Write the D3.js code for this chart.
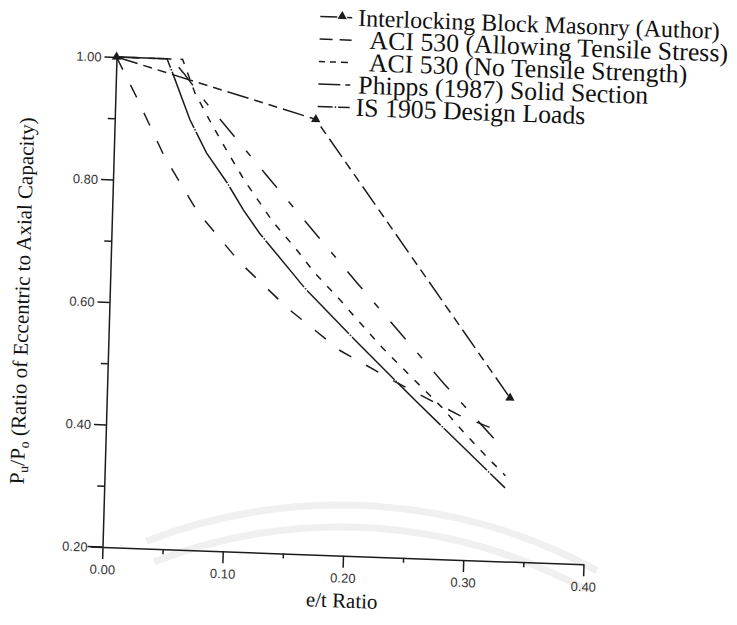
<!DOCTYPE html>
<html>
<head>
<meta charset="utf-8">
<script src="https://cdn.jsdelivr.net/npm/d3@7/dist/d3.min.js"></script>
<style>
    body { margin: 0; background: #fff; }
    svg { display: block; }
</style>
</head>
<body>
<svg id="chart" width="737" height="625"></svg>
<script>
// values (e/t ratio vs Pu/Po)
var xTicks = [0, 0.1, 0.2, 0.3, 0.4];
var xMinor = [0.05, 0.15, 0.25, 0.35];
var yTicks = [0.2, 0.4, 0.6, 0.8, 1.0];
var yMinor = [0.3, 0.5, 0.7, 0.9];

var authorE = [0, 0.167, 0.335];
var authorP = [1.0, 0.91, 0.467];

var aciTensE = [0, 0.017, 0.042, 0.071, 0.108, 0.149, 0.193, 0.241, 0.293, 0.327];
var aciTensP = [1.0, 0.938, 0.841, 0.752, 0.671, 0.599, 0.534, 0.485, 0.436, 0.412];

var aciNoTensE = [0, 0.055, 0.066, 0.081, 0.095, 0.110, 0.134, 0.153, 0.170, 0.190, 0.209, 0.228, 0.249, 0.279, 0.298, 0.318, 0.333];
var aciNoTensP = [1.0, 1.0, 0.946, 0.895, 0.850, 0.804, 0.740, 0.699, 0.659, 0.620, 0.580, 0.541, 0.502, 0.447, 0.407, 0.368, 0.340];

var phippsE = [0, 0.046, 0.056, 0.075, 0.131, 0.206, 0.280, 0.330];
var phippsP = [1.0, 1.0, 0.978, 0.932, 0.808, 0.644, 0.486, 0.385];

var isE = [0, 0.042, 0.047, 0.0625, 0.077, 0.095, 0.109, 0.123, 0.162, 0.205, 0.256, 0.333];
var isP = [1.0, 1.0, 0.977, 0.902, 0.849, 0.801, 0.758, 0.721, 0.634, 0.552, 0.458, 0.320];

var seriesNames = [
    "Interlocking Block Masonry (Author)",
    "ACI 530 (Allowing Tensile Stress)",
    "ACI 530 (No Tensile Strength)",
    "Phipps (1987) Solid Section",
    "IS 1905 Design Loads"
];

var series = [
    {name: seriesNames[0], pts: d3.zip(authorE, authorP), dash: "22,6,9,6,9,6", legDash: "17,10,5", marker: true},
    {name: seriesNames[1], pts: d3.zip(aciTensE, aciTensP), dash: "14,17", legDash: "13,7,12"},
    {name: seriesNames[2], pts: d3.zip(aciNoTensE, aciNoTensP), dash: "7,9", legDash: "6,5,6,5,7"},
    {name: seriesNames[3], pts: d3.zip(phippsE, phippsP), dash: "23,18,7,18", legDash: "22,5,7"},
    {name: seriesNames[4], pts: d3.zip(isE, isP), dash: "60,1.5,1.5,1.5", legDash: "15,2,1.5,2,13"}
];

var ink = "#1c1c1c";
var serif = "'Liberation Serif', 'Times New Roman', serif";
var sans = "'Liberation Sans', Arial, sans-serif";

var svg = d3.select("#chart");

// faint watermark of the scan
var wm = svg.append("g").attr("transform", "translate(340,1041)");
[536, 514].forEach(function(r) {
    wm.append("path")
        .attr("d", d3.arc().innerRadius(r - 3.5).outerRadius(r + 3.5).startAngle(-0.37).endAngle(0.5)())
        .attr("fill", "#f0f0f0");
});

// the scanned page is slightly skewed, so the whole figure sits in one affine group
var O = [102.5, 547];
var ex = [0.99935, 0.03595], ey = [-0.0286, 0.99959];
var tx = O[0] - (ex[0] * O[0] + ey[0] * O[1]);
var ty = O[1] - (ex[1] * O[0] + ey[1] * O[1]);

var g = svg.append("g")
    .attr("transform", "matrix(" + [ex[0], ex[1], ey[0], ey[1], tx, ty].join(",") + ")");

var x = d3.scaleLinear().domain([0, 0.4]).range([O[0], O[0] + 481.3]);
var y = d3.scaleLinear().domain([0.2, 1.0]).range([O[1], O[1] - 490.2]);

var fmt = d3.format(".2f");

// x axis
var xAxis = g.append("g").attr("transform", "translate(0," + y(0.2) + ")")
    .call(d3.axisBottom(x).tickValues(xTicks).tickSize(12).tickSizeOuter(0).tickFormat(fmt));
xAxis.selectAll("text").attr("y", 27).attr("dy", 0).attr("x", 0)
    .style("font-family", sans).style("font-size", "13px").attr("fill", "#333");
g.append("g").attr("transform", "translate(0," + y(0.2) + ")")
    .call(d3.axisBottom(x).tickValues(xMinor).tickSize(5).tickFormat(""))
    .select(".domain").remove();
g.append("line")
    .attr("x1", x(0) - 15).attr("x2", x(0))
    .attr("y1", y(0.2)).attr("y2", y(0.2));

// y axis
var yAxis = g.append("g").attr("transform", "translate(" + x(0) + ",0)")
    .call(d3.axisLeft(y).tickValues(yTicks).tickSize(12).tickSizeOuter(0).tickFormat(fmt));
yAxis.selectAll("text").attr("x", -15).attr("dy", "0.35em")
    .style("font-family", sans).style("font-size", "13px").attr("fill", "#333");
g.append("g").attr("transform", "translate(" + x(0) + ",0)")
    .call(d3.axisLeft(y).tickValues(yMinor).tickSize(7).tickFormat(""))
    .select(".domain").remove();

g.selectAll(".domain, .tick line, line").attr("stroke", ink).attr("stroke-width", 1.5);

// curves
var line = d3.line().x(function(d) { return x(d[0]); }).y(function(d) { return y(d[1]); });

g.selectAll(".curve")
    .data(series)
    .enter().append("path")
    .attr("class", "curve")
    .attr("d", function(d) { return line(d.pts); })
    .attr("fill", "none")
    .attr("stroke", ink)
    .attr("stroke-width", 1.5)
    .attr("stroke-dasharray", function(d) { return d.dash; });

var tri = d3.symbol().type(d3.symbolTriangle).size(38);
g.selectAll(".marker")
    .data(series[0].pts)
    .enter().append("path")
    .attr("class", "marker")
    .attr("d", tri)
    .attr("transform", function(d) { return "translate(" + x(d[0]) + "," + y(d[1]) + ")"; })
    .attr("fill", ink);

// legend
var legTextX = [38, 50, 50, 40, 38];
var legFont = [24, 25.8, 25.8, 25.8, 25.8];
var leg = g.selectAll(".leg")
    .data(series)
    .enter().append("g")
    .attr("class", "leg")
    .attr("transform", function(d, i) { return "translate(305," + (9 + 22.5 * i) + ")"; });

leg.append("line")
    .attr("x1", 0).attr("x2", 32)
    .attr("y1", 0).attr("y2", 0)
    .attr("stroke", ink).attr("stroke-width", 1.5)
    .attr("stroke-dasharray", function(d) { return d.legDash; });

leg.filter(function(d) { return d.marker; })
    .append("path")
    .attr("d", tri)
    .attr("transform", "translate(22,-1)")
    .attr("fill", ink);

leg.append("text")
    .attr("x", function(d, i) { return legTextX[i]; })
    .attr("y", 8)
    .style("font-family", serif)
    .style("font-size", function(d, i) { return legFont[i] + "px"; })
    .attr("fill", "#111")
    .text(function(d) { return d.name; });

// axis titles
g.append("text")
    .attr("x", x(0.2))
    .attr("y", y(0.2) + 52)
    .attr("text-anchor", "middle")
    .style("font-family", serif).style("font-size", "21px").attr("fill", "#111")
    .text("e/t Ratio");

var yt = g.append("text")
    .attr("transform", "translate(22," + (y(0.6) + 2) + ") rotate(-90)")
    .attr("text-anchor", "middle")
    .style("font-family", serif).style("font-size", "21px").attr("fill", "#111");
yt.append("tspan").text("P");
yt.append("tspan").attr("dy", 4).style("font-size", "14px").text("u");
yt.append("tspan").attr("dy", -4).text("/P");
yt.append("tspan").attr("dy", 4).style("font-size", "14px").text("o");
yt.append("tspan").attr("dy", -4).text(" (Ratio of Eccentric to Axial Capacity)");
</script>
</body>
</html>
